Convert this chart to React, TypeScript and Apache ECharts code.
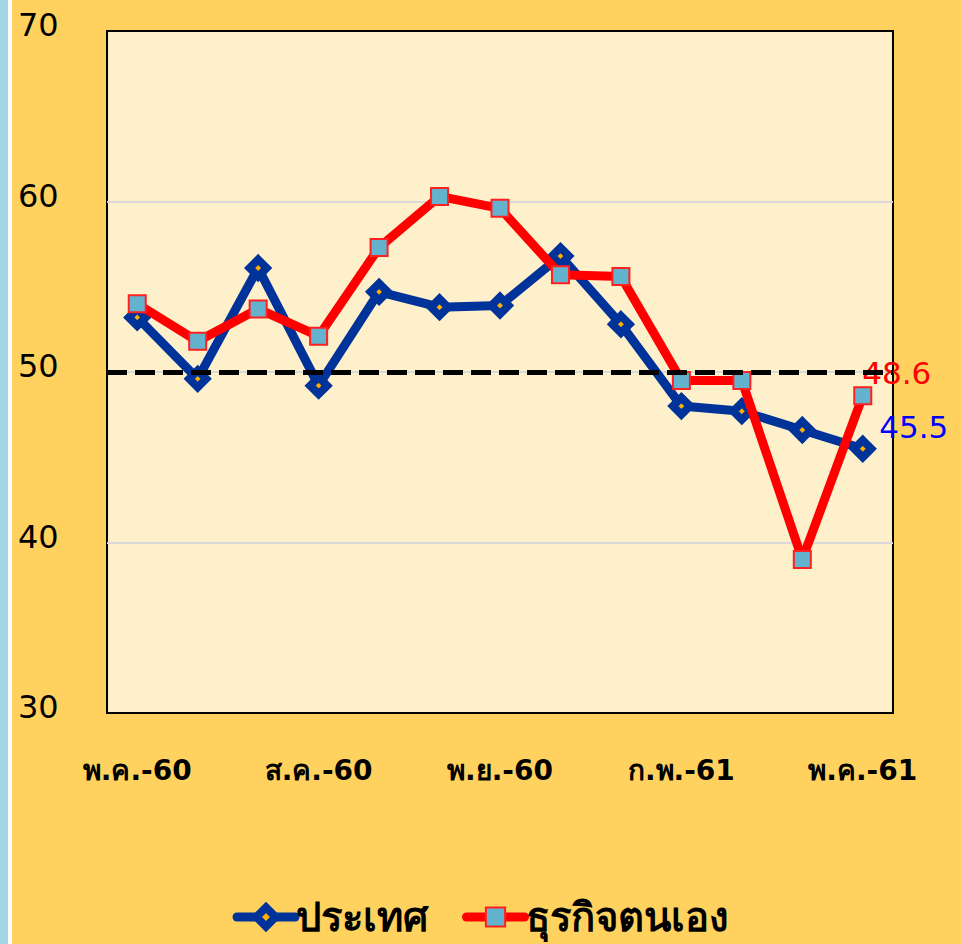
import React, { useEffect, useRef } from "react";
import * as echarts from "echarts";

const categories = [
  "พ.ค.-60", "มิ.ย.-60", "ก.ค.-60", "ส.ค.-60", "ก.ย.-60", "ต.ค.-60", "พ.ย.-60",
  "ธ.ค.-60", "ม.ค.-61", "ก.พ.-61", "มี.ค.-61", "เม.ย.-61", "พ.ค.-61",
];
const countryValues = [53.2, 49.6, 56.1, 49.2, 54.7, 53.8, 53.9, 56.8, 52.8, 48.0, 47.7, 46.6, 45.5];
const businessValues = [54.0, 51.8, 53.7, 52.1, 57.3, 60.3, 59.6, 55.7, 55.6, 49.5, 49.5, 39.0, 48.6];
const seriesNames = ["ประเทศ", "ธุรกิจตนเอง"];
const yTicks = { min: 30, max: 70, interval: 10 };
const thresholdValue = 50;

const FONT = "Tahoma, 'DejaVu Sans', 'Noto Sans', sans-serif";

export default function App() {
  const ref = useRef<HTMLDivElement>(null);
  useEffect(() => {
    if (!ref.current) return;
    const chart = echarts.init(ref.current, undefined, { renderer: "svg" });
    const lastIdx = categories.length - 1;
    const withLastLabel = (vals: number[], label: any) =>
      vals.map((v, i) => (i === lastIdx ? { value: v, label } : v));
    const blueItem = { color: "#FFB000", borderColor: "#003399", borderWidth: 8 };
    const redItem = { color: "#63B3CE", borderColor: "#FF2020", borderWidth: 2 };
    chart.setOption({
      animation: false,
      backgroundColor: "#FFD25F",
      textStyle: { fontFamily: FONT },
      graphic: [
        { type: "rect", left: 0, top: 0, shape: { width: 8, height: 944 }, style: { fill: "#A3D4E2" }, z: 100 },
        { type: "rect", left: 8, top: 0, shape: { width: 4, height: 944 }, style: { fill: "#FFFFFF" }, z: 100 },
      ],
      grid: {
        left: 107,
        top: 31,
        right: 68,
        bottom: 231,
        show: true,
        backgroundColor: "#FFF0CC",
        borderColor: "#000000",
        borderWidth: 2,
      },
      legend: {
        data: [
          { name: seriesNames[0], itemStyle: blueItem, lineStyle: { color: "#003399", width: 9, cap: "round" } },
          { name: seriesNames[1], itemStyle: redItem, lineStyle: { color: "#FF0000", width: 9, cap: "round" } },
        ],
        bottom: 2,
        left: "center",
        itemWidth: 58,
        itemHeight: 24,
        itemGap: 34,
        textStyle: { fontSize: 40, color: "#000", fontFamily: FONT, fontWeight: "bold", padding: [0, 0, 0, -4] },
      },
      xAxis: {
        type: "category",
        data: categories,
        boundaryGap: true,
        axisLine: { show: false },
        axisTick: { show: false },
        axisLabel: {
          interval: 2,
          fontSize: 28,
          fontWeight: "bold",
          color: "#000",
          margin: 43,
          fontFamily: FONT,
        },
      },
      yAxis: {
        type: "value",
        min: yTicks.min,
        max: yTicks.max,
        interval: yTicks.interval,
        axisLine: { show: false },
        axisTick: { show: false },
        splitLine: { showMinLine: false, showMaxLine: false, lineStyle: { color: "#D9D9D9", width: 2 } },
        axisLabel: {
          align: "left",
          margin: 89,
          fontSize: 32,
          color: "#000",
          fontFamily: FONT,
          verticalAlign: "bottom",
          lineHeight: 12,
        },
      },
      series: [
        {
          name: "threshold",
          type: "line",
          data: [],
          z: 1,
          silent: true,
          markLine: {
            silent: true,
            symbol: ["none", "none"],
            label: { show: false },
            lineStyle: { color: "#000", width: 5, type: [20, 8] },
            data: [{ yAxis: thresholdValue }],
          },
        },
        {
          name: seriesNames[0],
          type: "line",
          z: 3,
          data: withLastLabel(countryValues, {
            show: true,
            position: "right",
            offset: [-1, -22],
            color: "#0000FF",
            fontSize: 31,
            fontFamily: FONT,
          }),
          symbol: "diamond",
          symbolSize: 17,
          lineStyle: { color: "#003399", width: 9 },
          itemStyle: blueItem,
        },
        {
          name: seriesNames[1],
          type: "line",
          z: 4,
          data: withLastLabel(businessValues, {
            show: true,
            position: "right",
            offset: [-15, -23],
            color: "#FF0000",
            fontSize: 31,
            fontFamily: FONT,
          }),
          symbol: "rect",
          symbolSize: 17,
          lineStyle: { color: "#FF0000", width: 9 },
          itemStyle: redItem,
        },
      ],
    });
    return () => chart.dispose();
  }, []);
  return (
    <div style={{ position: "absolute", left: 0, top: 0, width: 961, height: 944 }}>
      <div ref={ref} style={{ width: 961, height: 944 }} />
    </div>
  );
}
